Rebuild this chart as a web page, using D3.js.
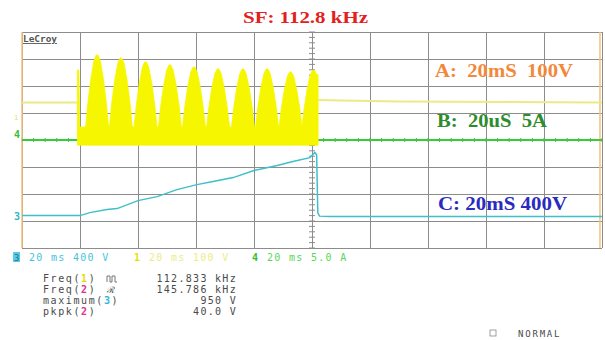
<!DOCTYPE html>
<html>
<head>
<meta charset="utf-8">
<script src="https://cdn.jsdelivr.net/npm/d3@7"></script>
<style>
  body { margin: 0; background: #fff; }
  text { white-space: pre; }
</style>
</head>
<body>
<div id="chart"></div>
<script>
// time base: 20 ms/div, 10 divisions, trigger in the middle
const timeTicks = [-100, -80, -60, -40, -20, 0, 20, 40, 60, 80, 100];
const divTicks = [-4, -3, -2, -1, 0, 1, 2, 3, 4];

// channel 1 (yellow), 100 V/div - flat parts (ms, V)
const ch1BeforeT = [-100, -81];
const ch1BeforeV = [54, 54];
const ch1AfterT = [2.2, 10, 30, 100];
const ch1AfterV = [63, 61, 58, 54];
// burst: start spike, rectified humps, floor of the band
const burstStart = -80.6;
const burstEnd = 2.1;
const spikeV = 174;
const humpT = [-74.1, -65.9, -57.4, -49.0, -40.7, -32.4, -23.8, -15.5, -7.4, 0.5];
const humpPeak = [230, 219, 204, 193, 185, 178, 178, 178, 167, 174];
const humpValley = -37;
const burstFloor = -104;
// shape of one hump: time from its centre and fraction of its height
const humpShapeDt = [-3.95, -3.2, -2.2, -1.1, -0.3, 0.3, 1.1, 2.2, 3.2, 3.95];
const humpShapeK = [0, 0.33, 0.66, 0.92, 1, 1, 0.92, 0.66, 0.33, 0];

// channel 3 (cyan), 400 V/div
const ch3T = [-100, -80, -76.6, -70.7, -67.2, -60, -53.4, -46.6, -39.7, -34.1, -27.2, -20, -12, -6.6, -0.7, 1.0, 1.6, 2.0, 2.6, 6, 100];
const ch3V = [0, 0, 44, 89, 104, 222, 281, 385, 459, 504, 563, 667, 741, 800, 859, 935, 900, 40, -8, -15, -15];

// channel 4 (green), 5 A/div
const ch4T = [-100, 100];
const ch4V = [0, 0];

const channels = {
  ch1: { offset: 0.85, perDiv: 100 },
  ch3: { offset: -2.8, perDiv: 400 },
  ch4: { offset: 0, perDiv: 5 }
};

const measLabels = [["Freq(", "1", ")"], ["Freq(", "2", ")"], ["maximum(", "3", ")"], ["pkpk(", "2", ")"]];
const measValues = ["112.833 kHz", "145.786 kHz", "950 V", "40.0 V"];
const chanColors = { "1": "#e6dc00", "2": "#e0308c", "3": "#2fb6d6" };

const width = 605, height = 340;
const svg = d3.select("#chart").append("svg")
  .attr("width", width)
  .attr("height", height)
  .style("font-family", "'DejaVu Sans Mono', monospace");

const x = d3.scaleLinear().domain([-100, 100]).range([22, 602]);
const y = d3.scaleLinear().domain([-4, 4]).range([248, 32]);
const ch = (name, v) => y(channels[name].offset + v / channels[name].perDiv);

// grid
const grid = svg.append("g").attr("class", "grid");
grid.append("g")
  .attr("transform", "translate(0," + y(-4) + ")")
  .call(d3.axisBottom(x).tickValues(timeTicks).tickSize(-(y(-4) - y(4))).tickFormat(""))
  .call(g => g.select(".domain").remove());
grid.append("g")
  .attr("transform", "translate(" + x(-100) + ",0)")
  .call(d3.axisLeft(y).tickValues(divTicks).tickSize(-(x(100) - x(-100))).tickFormat(""))
  .call(g => g.select(".domain").remove());
grid.selectAll("line").attr("stroke", "#8c8c8c").attr("stroke-width", 1);

// centre axes with minor ticks
const minorY = d3.range(-4, 4.01, 0.2);
const minorX = d3.range(-100, 100.1, 4);
grid.append("g").selectAll("line").data(minorY).join("line")
  .attr("x1", x(0) - 3).attr("x2", x(0) + 3)
  .attr("y1", d => y(d)).attr("y2", d => y(d))
  .attr("stroke", "#8c8c8c");
grid.append("g").selectAll("line").data(minorX).join("line")
  .attr("x1", d => x(d)).attr("x2", d => x(d))
  .attr("y1", y(0) - 2).attr("y2", y(0) + 2)
  .attr("stroke", "#6a9a6a");

// orange edges
grid.append("g").selectAll("line").data([-100, 99.3]).join("line")
  .attr("x1", d => x(d)).attr("x2", d => x(d))
  .attr("y1", y(4)).attr("y2", y(-4))
  .attr("stroke", "#f3c27a").attr("stroke-width", 1.5);

// channel 4 (green)
const line4 = d3.line().x((d, i) => x(ch4T[i])).y(d => ch("ch4", d));
svg.append("path").attr("d", line4(ch4V))
  .attr("fill", "none").attr("stroke", "#35cc35").attr("stroke-width", 2);

// channel 1 (yellow) flat parts
const line1 = d3.line().x(d => x(d[0])).y(d => ch("ch1", d[1]));
svg.append("path").attr("d", line1(ch1BeforeT.map((t, i) => [t, ch1BeforeV[i]])))
  .attr("fill", "none").attr("stroke", "#eaea88").attr("stroke-width", 2);
svg.append("path").attr("d", line1(ch1AfterT.map((t, i) => [t, ch1AfterV[i]])))
  .attr("fill", "none").attr("stroke", "#eaea88").attr("stroke-width", 2);

// channel 1 burst envelope
let env = [[burstStart - 0.3, burstFloor], [burstStart - 0.3, spikeV], [burstStart + 0.2, spikeV], [burstStart + 0.5, humpValley]];
humpT.forEach((c, i) => {
  humpShapeDt.forEach((dt, j) => {
    env.push([c + dt, humpValley + humpShapeK[j] * (humpPeak[i] - humpValley)]);
  });
});
env = env.filter(p => p[0] < burstEnd);
env.push([burstEnd, env[env.length - 1][1]], [burstEnd, burstFloor]);
svg.append("path").attr("d", line1(env) + "Z")
  .attr("fill", "#f6f600").attr("stroke", "#f6f600").attr("stroke-width", 0.8);

// channel 3 (cyan)
const line3 = d3.line().x((d, i) => x(ch3T[i])).y(d => ch("ch3", d));
svg.append("path").attr("d", line3(ch3V))
  .attr("fill", "none").attr("stroke", "#3fbfc8").attr("stroke-width", 1.5);

// ground markers
svg.append("text").attr("x", 14).attr("y", ch("ch3", 0) + 4).text("3")
  .attr("fill", "#2fb6c6").attr("font-size", 10).attr("font-weight", "bold");
svg.append("text").attr("x", 14).attr("y", ch("ch4", 0) - 2).text("4")
  .attr("fill", "#35c035").attr("font-size", 10).attr("font-weight", "bold");
svg.append("text").attr("x", 14).attr("y", ch("ch1", 0) + 3).text("1")
  .attr("fill", "#e6e060").attr("font-size", 7);

// LeCroy logo
svg.append("text").attr("x", 23).attr("y", 42).text("LeCroy")
  .attr("fill", "#555").attr("font-size", 9).attr("font-weight", "bold")
  .attr("text-decoration", "underline").attr("textLength", 34).attr("lengthAdjust", "spacingAndGlyphs");

// title and notes
const serif = "'Liberation Serif', 'Times New Roman', serif";
const notes = [
  { text: "SF: 112.8 kHz", x: 243, y: 23, w: 125, size: 17, color: "#e3201b" },
  { text: "A:  20mS  100V", x: 435, y: 77, w: 138, size: 18, color: "#f2883a" },
  { text: "B:  20uS  5A", x: 437, y: 127, w: 110, size: 18, color: "#2e8c2e" },
  { text: "C: 20mS 400V", x: 438, y: 210, w: 129, size: 18, color: "#2a2ac0" }
];
svg.append("g").selectAll("text").data(notes).join("text")
  .attr("x", d => d.x).attr("y", d => d.y)
  .attr("font-family", serif).attr("font-weight", "bold")
  .attr("font-size", d => d.size).attr("fill", d => d.color)
  .attr("textLength", d => d.w).attr("lengthAdjust", "spacingAndGlyphs")
  .text(d => d.text);

// channel settings row
const rowY = 261;
svg.append("rect").attr("x", 13).attr("y", 252).attr("width", 7).attr("height", 10).attr("fill", "#58cbe6");
svg.append("text").attr("x", 14).attr("y", rowY).text("3").attr("fill", "#1a6f8e").attr("font-size", 9);
const settings = [
  { mark: "", text: "20 ms 400 V", x: 29, color: "#47c2de", mcolor: "#47c2de" },
  { mark: "1", text: "20 ms 100 V", x: 149, color: "#ecec86", mcolor: "#e6e000" },
  { mark: "4", text: "20 ms 5.0 A", x: 267, color: "#55d855", mcolor: "#30c030" }
];
settings.forEach(s => {
  if (s.mark) {
    svg.append("text").attr("x", s.x - 15).attr("y", rowY).text(s.mark)
      .attr("fill", s.mcolor).attr("font-size", 10).attr("font-weight", "bold");
  }
  svg.append("text").attr("x", s.x).attr("y", rowY).text(s.text)
    .attr("fill", s.color).attr("font-size", 10).attr("letter-spacing", 1.3);
});

// measurements
const meas = svg.append("g").attr("font-size", 10).attr("fill", "#4a4a4a");
measLabels.forEach((m, i) => {
  const t = meas.append("text").attr("x", 43).attr("y", 282 + i * 11).attr("letter-spacing", 1.6);
  t.append("tspan").text(m[0]);
  t.append("tspan").text(m[1]).attr("fill", chanColors[m[1]]).attr("font-weight", "bold");
  t.append("tspan").text(m[2]);
  meas.append("text").attr("x", 237).attr("y", 282 + i * 11).attr("text-anchor", "end")
    .attr("letter-spacing", 1.3).text(measValues[i]);
});
// small waveform icons
meas.append("path").attr("d", "M107,282 v-6 h3 v6 h2 v-6 h3 v6 h2")
  .attr("fill", "none").attr("stroke", "#555").attr("stroke-width", 0.8);
meas.append("text").attr("x", 107).attr("y", 293).text("ℛ").attr("font-size", 9);

// status
svg.append("rect").attr("x", 490).attr("y", 330).attr("width", 6).attr("height", 6)
  .attr("fill", "none").attr("stroke", "#888").attr("stroke-width", 0.8);
svg.append("text").attr("x", 518).attr("y", 337).text("NORMAL")
  .attr("fill", "#4a4a4a").attr("font-size", 9).attr("letter-spacing", 1.8);
</script>
</body>
</html>
